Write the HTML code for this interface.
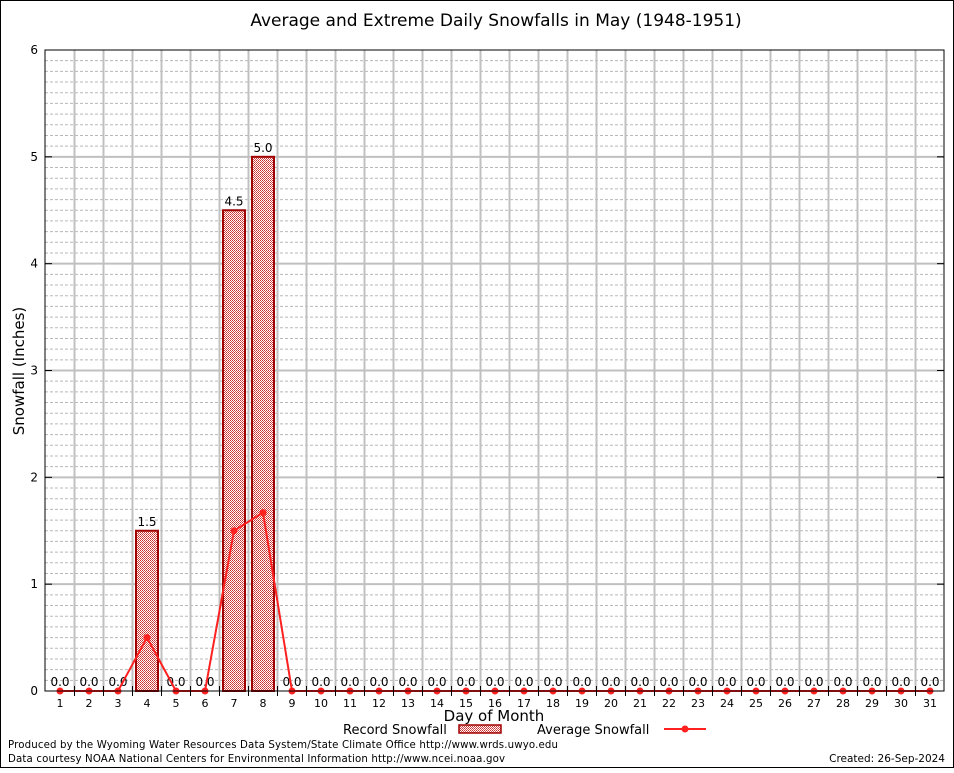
<!DOCTYPE html>
<html><head><meta charset="utf-8"><style>
body{margin:0;background:#fff;}
svg text{font-family:"DejaVu Sans","Liberation Sans",sans-serif;}
</style></head><body>
<svg id="chart" width="954" height="768" xmlns="http://www.w3.org/2000/svg">
<defs>
<pattern id="chk" width="2" height="2" patternUnits="userSpaceOnUse">
<rect width="2" height="2" fill="#fff"/><rect width="1" height="1" fill="#c83030"/><rect x="1" y="1" width="1" height="1" fill="#d85050"/>
</pattern>
</defs>
<rect x="0.5" y="0.5" width="953" height="767" fill="#fff" stroke="#000"/>
<text x="496" y="26" font-size="17" text-anchor="middle">Average and Extreme Daily Snowfalls in May (1948-1951)</text>
<g id="grid"></g>
<g id="bars"></g>
<g id="line"></g>
<g id="axes"></g>
<text x="24" y="371" font-size="15" text-anchor="middle" transform="rotate(-90 24 371)">Snowfall (Inches)</text>
<text x="494" y="721" font-size="15" text-anchor="middle">Day of Month</text>
<g>
<text x="343" y="734" font-size="13">Record Snowfall</text>
<rect x="459" y="725" width="42" height="8" fill="url(#chk)" stroke="#a00000" stroke-width="1.5"/>
<text x="537" y="734" font-size="13">Average Snowfall</text>
<line x1="664" y1="729" x2="706" y2="729" stroke="#ff2020" stroke-width="2"/>
<circle cx="685" cy="729" r="3.5" fill="#ff2020"/>
</g>
<text x="8" y="748" font-size="10.2" textLength="550">Produced by the Wyoming Water Resources Data System/State Climate Office http://www.wrds.uwyo.edu</text>
<text x="8" y="762" font-size="10.2" textLength="497">Data courtesy NOAA National Centers for Environmental Information http://www.ncei.noaa.gov</text>
<text x="945" y="762" font-size="10.5" text-anchor="end">Created:  26-Sep-2024</text>
</svg>
<script>
const days=[1,2,3,4,5,6,7,8,9,10,11,12,13,14,15,16,17,18,19,20,21,22,23,24,25,26,27,28,29,30,31];
const recordSnow=[0,0,0,1.5,0,0,4.5,5.0,0,0,0,0,0,0,0,0,0,0,0,0,0,0,0,0,0,0,0,0,0,0,0];
const avgSnow=[0,0,0,0.5,0,0,1.5,1.67,0,0,0,0,0,0,0,0,0,0,0,0,0,0,0,0,0,0,0,0,0,0,0];
const yTicks=[0,1,2,3,4,5,6];
const NS='http://www.w3.org/2000/svg';
const L=45,R=944,T=50,B=691,YMAX=6;
const x=d=>60+(d-1)*(870/30);
const y=v=>B-(v/YMAX)*(B-T);
function mk(tag,attrs,parent,txt){const e=document.createElementNS(NS,tag);for(const k in attrs)e.setAttribute(k,attrs[k]);if(txt!==undefined)e.textContent=txt;parent.appendChild(e);return e;}
const grid=document.getElementById('grid'),bars=document.getElementById('bars'),line=document.getElementById('line'),axes=document.getElementById('axes');
for(let v=0.1;v<YMAX;v+=0.1){const r=Math.round(v*10);if(r%10===0)continue;
 const g=mk('line',{x1:L,x2:R,y1:y(v),y2:y(v),stroke:'#b8b8b8','stroke-dasharray':'3,2','stroke-width':1},grid);
 }
yTicks.forEach(v=>{if(v===0||v===YMAX)return;
 const g=mk('line',{x1:L,x2:R,y1:y(v),y2:y(v),stroke:'#c0c0c0','stroke-width':2},grid);
 });
for(let i=0;i<days.length-1;i++){const xm=(x(days[i])+x(days[i+1]))/2;
 const g=mk('line',{x1:xm,x2:xm,y1:T,y2:B,stroke:'#c0c0c0','stroke-width':2},grid);
 }
days.forEach((d,i)=>{const v=recordSnow[i];
 if(v>0){const b=mk('rect',{x:x(d)-11,y:y(v),width:22,height:B-y(v),fill:'url(#chk)',stroke:'#a00000','stroke-width':2},bars);
  }
 const t=mk('text',{x:x(d),y:y(v)-5,'font-size':12,'text-anchor':'middle'},bars,v.toFixed(1));
 });
const pl=mk('polyline',{points:days.map((d,i)=>x(d)+','+y(avgSnow[i])).join(' '),fill:'none',stroke:'#ff2020','stroke-width':2},line);

days.forEach((d,i)=>{const c=mk('circle',{cx:x(d),cy:y(avgSnow[i]),r:3.5,fill:'#ff2020'},line);
 });
const fr=mk('rect',{x:L,y:T,width:R-L,height:B-T,fill:'none',stroke:'#000','stroke-width':1},axes);

yTicks.forEach(v=>{mk('line',{x1:L,x2:L+7,y1:y(v),y2:y(v),stroke:'#000'},axes);mk('line',{x1:R-7,x2:R,y1:y(v),y2:y(v),stroke:'#000'},axes);
 const t=mk('text',{x:L-7,y:y(v)+4,'font-size':12,'text-anchor':'end','font-family':'Liberation Serif, serif'},axes,String(v));
 });
days.forEach((d,i)=>{if(i<days.length-1){const xm=(x(d)+x(days[i+1]))/2;mk('line',{x1:xm,x2:xm,y1:B-5,y2:B+5,stroke:'#000'},axes);}
 const t=mk('text',{x:x(d),y:B+16,'font-size':11,'text-anchor':'middle','font-family':'Liberation Serif, serif'},axes,String(d));
 });
</script>
</body></html>
